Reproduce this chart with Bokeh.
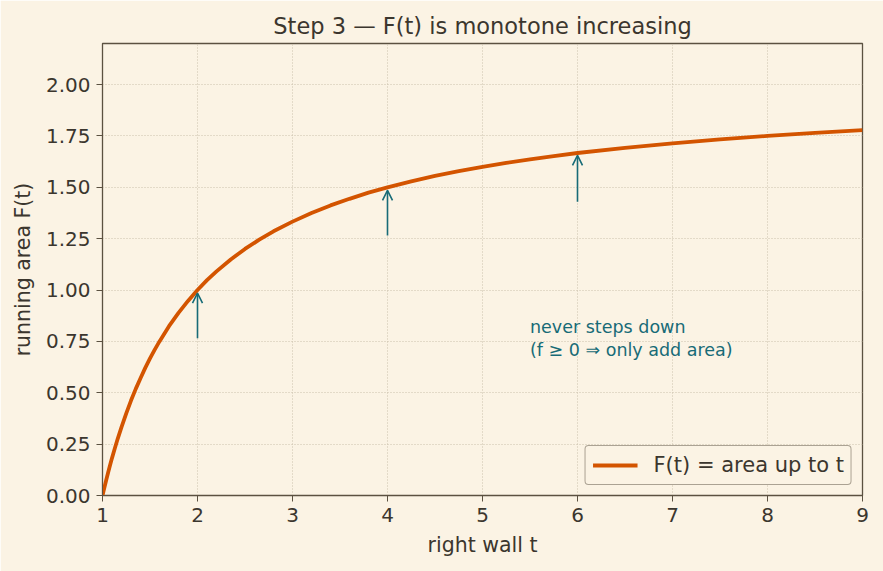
from bokeh.plotting import figure
from bokeh.models import Arrow, OpenHead, FixedTicker, NumeralTickFormatter, Label, Range1d, ColumnDataSource
from bokeh.embed import file_html
from bokeh.resources import INLINE

# Values
t_vals = [1.0, 1.02, 1.04, 1.06, 1.08, 1.1, 1.13, 1.16, 1.2, 1.25, 1.3, 1.35, 1.4, 1.45, 1.5, 1.55,
          1.6, 1.7, 1.8, 1.9, 2.0, 2.1, 2.2, 2.35, 2.5, 2.65, 2.8, 3.0, 3.2, 3.4, 3.6, 3.8, 4.0,
          4.25, 4.5, 4.75, 5.0, 5.25, 5.5, 5.75, 6.0, 6.5, 7.0, 7.5, 8.0, 8.5, 9.0]
F_vals = [0.0, 0.039, 0.077, 0.113, 0.148, 0.182, 0.230, 0.276, 0.333, 0.40, 0.462, 0.519, 0.571,
          0.621, 0.667, 0.710, 0.75, 0.824, 0.889, 0.947, 1.0, 1.048, 1.091, 1.149, 1.20, 1.245,
          1.286, 1.333, 1.375, 1.412, 1.444, 1.474, 1.50, 1.529, 1.556, 1.579, 1.60, 1.619, 1.636,
          1.652, 1.667, 1.692, 1.714, 1.733, 1.75, 1.765, 1.778]
arrow_t = [2, 4, 6]
arrow_start = [0.765, 1.265, 1.43]
arrow_end = [0.985, 1.485, 1.655]
x_ticks = [1, 2, 3, 4, 5, 6, 7, 8, 9]
y_ticks = [0.0, 0.25, 0.5, 0.75, 1.0, 1.25, 1.5, 1.75, 2.0]

BG = "#fbf3e4"
TXT = "#3b362e"
FRAME = "#5b5141"
ORANGE = "#d35400"
TEAL = "#176b77"
FONT = "DejaVu Sans"

p = figure(width=883, height=571, output_backend="svg", toolbar_location=None,
           x_range=Range1d(1, 9), y_range=Range1d(0, 2.2),
           min_border_left=102, min_border_right=21, min_border_top=43, min_border_bottom=76,
           background_fill_color=BG, border_fill_color=BG,
           title="Step 3 — F(t) is monotone increasing")
p.title.align = "center"
p.title.text_font = FONT
p.title.text_font_size = "22.5px"
p.title.text_font_style = "normal"
p.title.text_color = TXT
p.title.standoff = 9
p.outline_line_color = FRAME
p.outline_line_width = 1.3

for ax in (p.xaxis[0], p.yaxis[0]):
    ax.axis_line_color = FRAME
    ax.major_tick_line_color = FRAME
    ax.major_tick_out = 6
    ax.major_tick_in = 0
    ax.minor_tick_line_color = None
    ax.major_label_text_font = FONT
    ax.major_label_text_font_size = "20px"
    ax.major_label_text_color = TXT
    ax.major_label_standoff = 6
    ax.axis_label_text_font = FONT
    ax.axis_label_text_font_size = "20.5px"
    ax.axis_label_text_font_style = "normal"
    ax.axis_label_text_color = TXT
    ax.axis_label_standoff = 8

p.xaxis.ticker = FixedTicker(ticks=x_ticks)
p.yaxis.ticker = FixedTicker(ticks=y_ticks)
p.yaxis.formatter = NumeralTickFormatter(format="0.00")
p.xaxis.axis_label = "right wall t"
p.yaxis.axis_label = "running area F(t)"

p.grid.grid_line_color = "#cbc1ad"
p.grid.grid_line_dash = "1 2"
p.grid.grid_line_width = 1

src = ColumnDataSource(dict(t=t_vals, F=F_vals))
p.line("t", "F", source=src, line_width=3.8, line_color=ORANGE, legend_label="F(t) = area up to t")

for xt, y0, y1 in zip(arrow_t, arrow_start, arrow_end):
    p.add_layout(Arrow(end=OpenHead(size=10, line_color=TEAL, line_width=1.6),
                       x_start=xt, y_start=y0, x_end=xt, y_end=y1,
                       line_color=TEAL, line_width=1.6))

p.add_layout(Label(x=5.5, y=0.871, text="never steps down\n(f ≥ 0 ⇒ only add area)",
                   text_font=FONT, text_font_size="17.5px", text_color=TEAL,
                   text_baseline="top", text_line_height=1.15))

lg = p.legend[0]
lg.location = "bottom_right"
lg.background_fill_color = BG
lg.background_fill_alpha = 1
lg.border_line_color = FRAME
lg.border_line_width = 1.3
if "border_radius" in lg.properties():
    lg.border_radius = 4
lg.label_text_font = FONT
lg.label_text_font_size = "21px"
lg.label_text_color = TXT
lg.glyph_width = 45
lg.label_standoff = 16
lg.margin = 10
lg.padding = 7

open("out.html", "w").write(file_html(p, INLINE))
